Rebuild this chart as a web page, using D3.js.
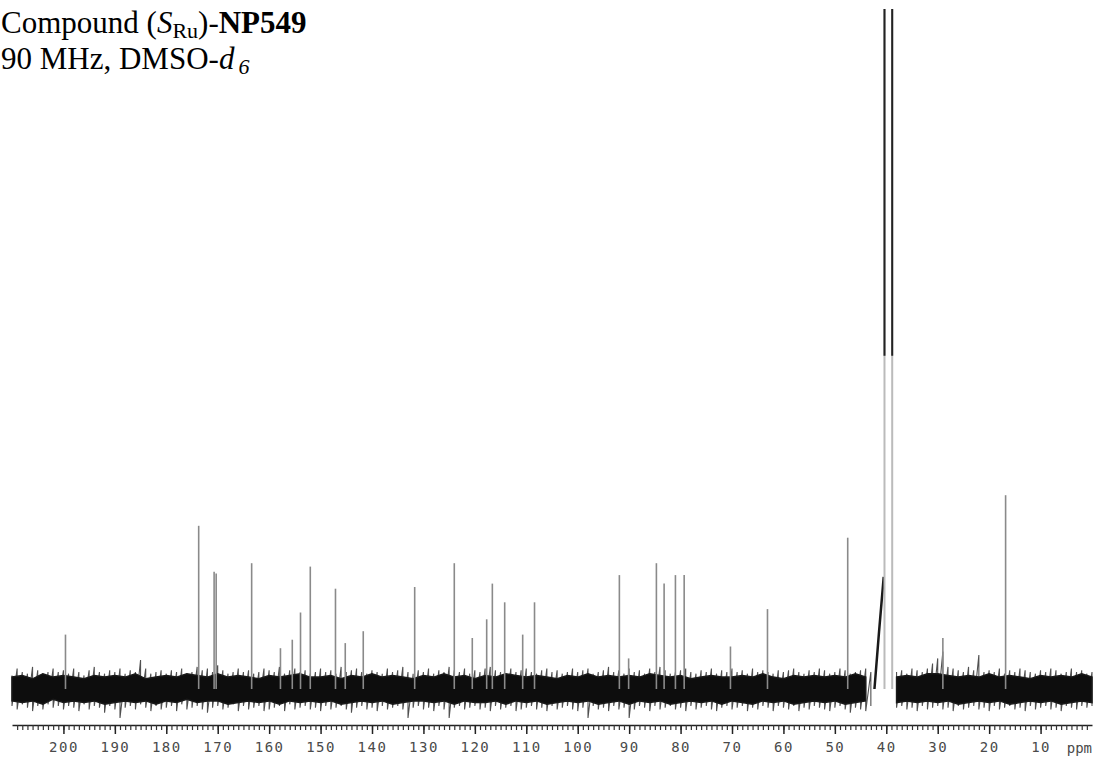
<!DOCTYPE html>
<meta charset="utf-8">
<body style="margin:0;background:#fff">
<script src="https://d3js.org/d3.v7.min.js"></script>

<script>

// peaks: chemical shift (ppm) and height (arbitrary units)
var peakPpm = [199.6, 173.7, 170.7, 170.3, 163.4, 157.8, 155.5, 153.9, 152.0, 147.1,
               145.2, 141.7, 131.7, 124.0, 120.5, 117.7, 116.6, 114.2, 110.7, 108.4,
               91.9, 90.1, 84.7, 83.2, 81.0, 79.3, 70.3, 63.1, 47.5, 29.0, 16.8];
var peakHeight = [32, 96, 69, 68, 74, 24, 29, 45, 72, 59,
                  27, 34, 60, 74, 30, 41, 62, 51, 32, 51,
                  67, 18, 74, 62, 67, 67, 25, 47, 89, 30, 114];

// DMSO solvent signal (goes off scale) and its sloping shoulder
var solventPpm = [40.35, 38.85];
var solventHeight = [450, 450];
var shoulderPpm = [42.3, 41.4, 40.5];
var shoulderHeight = [0, 34, 66];

// baseline noise, extremes per 1 ppm bin (210 -> 0 ppm)
var noiseMax = [
  8,12,10,9,13,11,9,10,12,10,
  11,9,12,10,8,11,13,10,9,11,
  10,12,9,11,10,17,12,9,10,11,
  9,11,10,12,9,10,13,11,12,10,
  14,11,9,10,12,10,11,9,10,12,
  11,10,13,9,11,12,10,11,9,10,
  12,10,11,9,13,10,11,12,10,9,
  11,10,9,12,10,11,13,10,9,11,
  10,12,9,11,10,13,11,10,12,9,
  11,10,12,13,11,10,9,12,10,11,
  12,10,9,11,12,10,11,9,10,12,
  10,11,12,9,10,11,13,10,11,9,
  12,10,11,9,12,10,13,11,9,10,
  11,12,10,9,11,10,12,9,11,10,
  12,10,11,9,12,10,11,10,9,11,
  10,11,12,10,9,11,10,12,11,9,
  10,12,11,9,10,11,12,10,null,null,
  null,null,10,11,9,12,11,10,12,15,
  18,22,13,12,11,10,13,11,20,10,
  11,10,12,9,11,10,12,11,10,9,
  11,10,12,11,9,10,12,10,11,9,
  10];
var noiseMin = [
  -10,-12,-9,-11,-13,-10,-12,-9,-11,-10,
  -12,-10,-11,-13,-9,-12,-10,-11,-14,-10,
  -12,-17,-11,-10,-12,-9,-11,-13,-10,-12,
  -11,-10,-13,-9,-12,-11,-10,-12,-14,-11,
  -10,-12,-11,-9,-13,-10,-12,-11,-10,-13,
  -12,-11,-10,-13,-9,-12,-11,-10,-12,-11,
  -13,-10,-12,-11,-10,-12,-14,-11,-10,-12,
  -11,-13,-10,-12,-11,-10,-12,-17,-11,-10,
  -12,-11,-13,-10,-12,-17,-11,-10,-12,-11,
  -10,-12,-11,-13,-10,-12,-11,-10,-13,-12,
  -11,-10,-12,-11,-13,-10,-12,-11,-10,-12,
  -13,-11,-17,-10,-12,-11,-13,-10,-12,-11,
  -17,-12,-10,-11,-13,-10,-12,-11,-10,-12,
  -11,-13,-10,-12,-11,-10,-12,-13,-11,-10,
  -12,-11,-10,-13,-11,-12,-10,-11,-13,-10,
  -11,-12,-10,-13,-11,-12,-10,-11,-12,-13,
  -11,-10,-12,-14,-11,-12,-13,-10,null,null,
  null,null,-11,-10,-12,-11,-13,-10,-12,-11,
  -10,-12,-11,-13,-10,-12,-11,-10,-12,-11,
  -13,-10,-12,-11,-10,-12,-11,-13,-10,-12,
  -11,-10,-12,-11,-13,-10,-11,-12,-10,-11,
  -10];

// dense part of the noise, per 2 ppm (210 -> 0 ppm)
var bandMax = [
  7,8,6,9,7,8,7,6,8,7,
  8,7,9,6,7,8,7,9,8,7,
  9,7,8,7,6,8,7,8,9,7,
  7,8,6,8,7,9,7,8,7,6,
  8,7,9,7,8,6,8,7,9,8,
  7,8,7,6,8,7,9,7,8,7,
  8,7,9,8,7,8,6,7,8,7,
  7,8,7,9,7,6,8,7,8,7,
  8,7,9,7,null,null,7,8,7,9,
  9,8,7,8,7,9,7,8,7,6,
  8,7,8,7,9,7];
var bandMin = [
  -7,-8,-7,-9,-6,-8,-7,-8,-7,-9,
  -8,-7,-8,-7,-9,-7,-8,-6,-8,-7,
  -7,-9,-8,-7,-8,-7,-9,-7,-8,-7,
  -8,-7,-9,-8,-7,-8,-7,-9,-8,-7,
  -7,-8,-7,-9,-7,-8,-8,-7,-9,-7,
  -8,-7,-9,-8,-7,-8,-7,-9,-8,-7,
  -9,-7,-8,-7,-9,-8,-7,-8,-7,-9,
  -7,-8,-9,-7,-8,-7,-9,-8,-7,-8,
  -7,-9,-8,-7,null,null,-8,-7,-8,-7,
  -8,-7,-9,-8,-7,-8,-7,-9,-8,-7,
  -8,-7,-9,-8,-7,-8];

var majorTicks = [200, 190, 180, 170, 160, 150, 140, 130, 120, 110,
                  100, 90, 80, 70, 60, 50, 40, 30, 20, 10];

var width = 1095, height = 758;
var topIntensity = 400;

var x = d3.scaleLinear().domain([210, 0]).range([12, 1092]);
var y = d3.scaleLinear().domain([0, topIntensity]).range([689, 9]);

var svg = d3.select("body").append("svg")
    .attr("width", width)
    .attr("height", height)
    .style("display", "block");

// noise: a trace that zigzags between each bin's extremes
var trace = [];
d3.range(210, -1, -1).forEach(function(p, i){
  trace.push({ppm: p, v: noiseMax[i]});
  trace.push({ppm: p, v: noiseMin[i]});
});

svg.append("path")
  .datum(trace)
  .attr("d", d3.line()
      .defined(function(d){ return d.v != null; })
      .x(function(d){ return x(d.ppm); })
      .y(function(d){ return y(d.v); }))
  .attr("fill", "none")
  .attr("stroke", "#505050")
  .attr("stroke-width", 1.1);

var band = d3.range(210, -1, -2).map(function(p, i){
  return {ppm: p, hi: bandMax[i], lo: bandMin[i]};
});

svg.append("path")
  .datum(band)
  .attr("d", d3.area()
      .defined(function(d){ return d.hi != null; })
      .x(function(d){ return x(d.ppm); })
      .y0(function(d){ return y(d.lo); })
      .y1(function(d){ return y(d.hi); }))
  .attr("fill", "#0d0d0d")
  .attr("stroke", "#1a1a1a")
  .attr("stroke-width", 1.5);

// peaks
svg.append("g").selectAll("line")
  .data(peakPpm)
  .enter().append("line")
    .attr("x1", function(d){ return x(d); })
    .attr("x2", function(d){ return x(d); })
    .attr("y1", y(0))
    .attr("y2", function(d, i){ return y(peakHeight[i]); })
    .attr("stroke", "#8a8a8a")
    .attr("stroke-width", 1.6);

// solvent
var shoulder = shoulderPpm.map(function(p, i){ return [x(p), y(shoulderHeight[i])]; });
svg.append("path")
  .attr("d", d3.line()(shoulder))
  .attr("fill", "none")
  .attr("stroke", "#1a1a1a")
  .attr("stroke-width", 2.5);

function solventTop(d, i){ return y(Math.min(solventHeight[i], topIntensity)); }

svg.append("g").selectAll("line")
  .data(solventPpm)
  .enter().append("line")
    .attr("x1", function(d){ return x(d); })
    .attr("x2", function(d){ return x(d); })
    .attr("y1", y(0))
    .attr("y2", solventTop)
    .attr("stroke", "#bbb")
    .attr("stroke-width", 2);

svg.append("g").selectAll("line")
  .data(solventPpm)
  .enter().append("line")
    .attr("x1", function(d){ return x(d); })
    .attr("x2", function(d){ return x(d); })
    .attr("y1", y(196))
    .attr("y2", solventTop)
    .attr("stroke", "#222")
    .attr("stroke-width", 2);

// axis
var axisG = svg.append("g").attr("transform", "translate(0,725)");
axisG.call(d3.axisBottom(x).tickValues(d3.range(209, 0, -1)).tickSize(5).tickSizeOuter(0).tickFormat(""));
axisG.select(".domain").attr("stroke", "#222").attr("stroke-width", 1.5);
axisG.selectAll(".tick line").attr("stroke", "#333").attr("stroke-width", 1.2);

var major = svg.append("g").attr("transform", "translate(0,725)")
  .call(d3.axisBottom(x).tickValues(majorTicks).tickSize(9).tickPadding(8));
major.select(".domain").remove();
major.selectAll(".tick line").attr("stroke", "#222").attr("stroke-width", 1.5);
major.selectAll(".tick text")
  .attr("fill", "#4a4a4a")
  .style("font-family", "'DejaVu Sans Mono', monospace")
  .style("font-size", "14px")
  .style("letter-spacing", "1.5px");

svg.append("text")
  .attr("x", x(0))
  .attr("y", 753)
  .attr("text-anchor", "end")
  .attr("fill", "#4a4a4a")
  .style("font-family", "'DejaVu Sans Mono', monospace")
  .style("font-size", "14px")
  .text("ppm");

// title
var title = svg.append("text")
  .style("font-family", "'Liberation Serif', 'Times New Roman', serif")
  .style("font-size", "31px")
  .attr("fill", "#000");

var t1 = title.append("tspan").attr("x", 1).attr("y", 33);
t1.append("tspan").text("Compound (");
t1.append("tspan").style("font-style", "italic").text("S");
t1.append("tspan").attr("dy", 5).style("font-size", "22px").text("Ru");
t1.append("tspan").attr("dy", -5).text(")-");
t1.append("tspan").style("font-weight", "bold").text("NP549");

var t2 = title.append("tspan").attr("x", 1).attr("y", 69);
t2.append("tspan").text("90 MHz, DMSO-");
t2.append("tspan").style("font-style", "italic").text("d");
t2.append("tspan").attr("dy", 5).attr("dx", 4).style("font-style", "italic").style("font-size", "22px").text("6");

</script>
</body>
